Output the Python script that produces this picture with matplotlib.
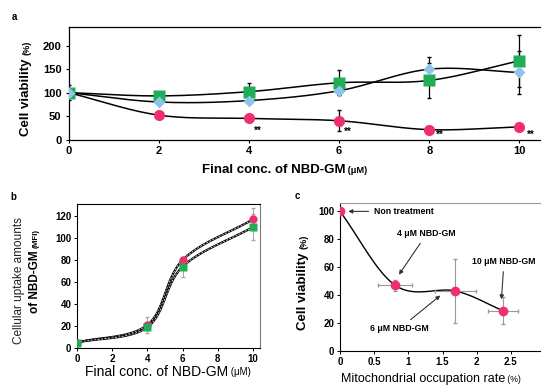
import numpy as np
import matplotlib
matplotlib.use("Agg")
import matplotlib.pyplot as plt

plt.rcParams["font.family"] = ["Liberation Sans", "DejaVu Sans"]
plt.rcParams["font.weight"] = "bold"

W, H = 541, 385

# panel a data
conc_a = [0, 2, 4, 6, 8, 10]
pink_a = [100, 52, 45, 40, 21, 27]
pink_a_err = [3, 4, 4, 22, 4, 5]
green_a = [100, 93, 102, 121, 126, 168]
green_a_err = [16, 8, 18, 27, 37, 55]
blue_a = [100, 80, 83, 104, 150, 143]
blue_a_err = [5, 5, 6, 10, 27, 45]
star_x = [4.2, 6.2, 8.24, 10.26]
star_y = [18, 16, 9, 11]

# panel b data
conc_b = [0, 4, 6, 10]
pink_b = [5, 21, 80, 117]
pink_b_err = [1, 7, 3, 10]
green_b = [5, 19, 74, 110]
green_b_err = [1, 3, 9, 12]

# panel c data
occ_c = [0, 0.81, 1.69, 2.38]
occ_c_err = [0, 0.25, 0.3, 0.22]
via_c = [100, 47, 43, 29]
via_c_err = [0, 4, 23, 10]
notes_c = ["Non treatment", "4 μM NBD-GM", "6 μM NBD-GM", "10 μM NBD-GM"]

PINK = "#f0306e"
GREEN = "#1fae55"
BLUE = "#8ec3ea"


def smooth(x, y, n=30):
    # catmull-rom through the points, like excel smoothed lines
    x = np.asarray(x, float)
    y = np.asarray(y, float)
    px = np.concatenate([[2 * x[0] - x[1]], x, [2 * x[-1] - x[-2]]])
    py = np.concatenate([[2 * y[0] - y[1]], y, [2 * y[-1] - y[-2]]])
    xs, ys = [], []
    t = np.linspace(0, 1, n)
    for i in range(1, len(px) - 2):
        for p, out in ((px, xs), (py, ys)):
            p0, p1, p2, p3 = p[i - 1], p[i], p[i + 1], p[i + 2]
            out.extend(0.5 * (2 * p1 + (-p0 + p2) * t
                              + (2 * p0 - 5 * p1 + 4 * p2 - p3) * t ** 2
                              + (-p0 + 3 * p1 - 3 * p2 + p3) * t ** 3))
    return np.array(xs), np.array(ys)


def ax_at(left, top, right, bottom):
    return fig.add_axes([left / W, 1 - bottom / H, (right - left) / W, (bottom - top) / H])


def xlab(x_end, y, big, small, size, weight="bold"):
    # big text ends at x_end, small unit text follows it
    t1 = fig.text(x_end / W, 1 - y / H, big, fontsize=size, fontweight=weight,
                  ha="right", va="center")
    plt.annotate(" " + small, xy=(1, 0.12), xycoords=t1, fontsize=size * 0.7,
                 fontweight=weight, ha="left", va="bottom", annotation_clip=False)


def ylab(x, y, big, small, size, weight="bold", color="black"):
    # rotated label centred at (x, y), small unit text above it
    t1 = fig.text(x / W, 1 - y / H, big, fontsize=size, fontweight=weight,
                  rotation=90, ha="center", va="center", color=color)
    plt.annotate(small, xy=(0.5, 1), xycoords=t1, xytext=(0.8, 2), textcoords="offset points",
                 fontsize=size * 0.68, fontweight=weight, rotation=90,
                 ha="center", va="bottom", annotation_clip=False, color=color)


fig = plt.figure(figsize=(W / 100, H / 100), dpi=100)

# ---- panel a
ax = ax_at(68.5, 27, 542, 139.5)
for yv, ev, c, m, ms in ((pink_a, pink_a_err, PINK, "o", 8),
                         (green_a, green_a_err, GREEN, "s", 8),
                         (blue_a, blue_a_err, BLUE, "D", 6.5)):
    sx, sy = smooth(conc_a, yv)
    ax.plot(sx, sy, color="black", lw=1.1, zorder=2)
    ax.errorbar(conc_a, yv, yerr=ev, fmt="none", ecolor="black", elinewidth=0.9,
                capsize=1.5, zorder=3)
    ax.plot(conc_a, yv, m, color=c, ms=ms, mec="none", zorder=4)
for sxp, syp in zip(star_x, star_y):
    ax.text(sxp, syp, "**", fontsize=7, ha="center", va="center")
ax.set_xlim(0, 10.5)
ax.set_ylim(0, 240)
ax.set_xticks(conc_a)
ax.set_yticks([0, 50, 100, 150, 200])
ax.tick_params(labelsize=8, length=2.5, width=0.8, pad=2.5)
for s in ax.spines.values():
    s.set_linewidth(0.9)
fig.text(12 / W, 1 - 17 / H, "a", fontsize=7, fontweight="bold", va="center")
xlab(345, 170, "Final conc. of NBD-GM", "(μM)", 9.5)
ylab(26, 97, "Cell viability", "(%)", 9.5)

# ---- panel b
ax = ax_at(77, 204, 260, 348)
for yv, ev, c, m in ((pink_b, pink_b_err, PINK, "o"), (green_b, green_b_err, GREEN, "s")):
    sx, sy = smooth(conc_b, yv)
    ax.plot(sx, sy, color="black", lw=1.6, zorder=2)
    ax.plot(sx, sy, color="white", lw=0.5, ls=(0, (3, 2)), zorder=2)
    ax.errorbar(conc_b, yv, yerr=ev, fmt="none", ecolor="#aaaaaa", elinewidth=0.8,
                capsize=1.5, zorder=3)
    ax.plot(conc_b, yv, m, color=c, ms=6, mec="none", zorder=4)
ax.set_xlim(0, 10.4)
ax.set_ylim(0, 131)
ax.set_xticks([0, 2, 4, 6, 8, 10])
ax.set_yticks(range(0, 121, 20))
ax.tick_params(labelsize=7, length=2, width=0.7, pad=2)
for s in ax.spines.values():
    s.set_linewidth(0.8)
ax.spines["right"].set_color("#777777")
fig.text(10 / W, 1 - 197 / H, "b", fontsize=7, fontweight="bold", va="center")
xlab(228, 372, "Final conc. of NBD-GM", "(μM)", 10, weight="normal")
fig.text(19 / W, 1 - 281 / H, "Cellular uptake amounts", fontsize=8.5,
         rotation=90, ha="center", va="center", color="#222222", fontweight="normal")
ylab(35, 282, "of NBD-GM", "(MFI)", 8.5)

# ---- panel c
ax = ax_at(340, 203, 545, 351)
sx, sy = smooth(occ_c, via_c)
ax.plot(sx, sy, color="black", lw=1.0, zorder=2)
ax.errorbar(occ_c, via_c, xerr=occ_c_err, yerr=via_c_err, fmt="none", ecolor="#999999",
            elinewidth=0.8, capsize=1.5, zorder=3)
ax.plot(occ_c, via_c, "o", color=PINK, ms=7, mec="none", zorder=4)
arrow = dict(arrowstyle="-|>", color="#333333", lw=0.8, mutation_scale=6)
ax.annotate(notes_c[0], xy=(occ_c[0] + 0.08, via_c[0]), xytext=(0.5, 100),
            fontsize=6.3, va="center", ha="left", arrowprops=arrow)
ax.annotate(notes_c[1], xy=(0.84, 53), xytext=(1.27, 84),
            fontsize=6.3, va="center", ha="center", arrowprops=arrow)
ax.annotate(notes_c[2], xy=(1.5, 41), xytext=(0.87, 16),
            fontsize=6.3, va="center", ha="center", arrowprops=arrow)
ax.annotate(notes_c[3], xy=(2.36, 35), xytext=(2.4, 64),
            fontsize=6.3, va="center", ha="center", arrowprops=arrow)
ax.set_xlim(0, 3)
ax.set_ylim(0, 106)
ax.set_xticks([0, 0.5, 1, 1.5, 2, 2.5, 3])
ax.set_xticklabels(["0", "0.5", "1", "1.5", "2", "2.5", "3"])
ax.set_yticks(range(0, 101, 20))
ax.tick_params(labelsize=7, length=2, width=0.7, pad=2)
ax.spines["top"].set_color("#999999")
fig.text(295 / W, 1 - 196 / H, "c", fontsize=7, fontweight="bold", va="center")
xlab(505, 379, "Mitochondrial occupation rate", "(%)", 9, weight="normal")
ylab(303, 291, "Cell viability", "(%)", 9.5)

fig.savefig("out.png", dpi=100)
